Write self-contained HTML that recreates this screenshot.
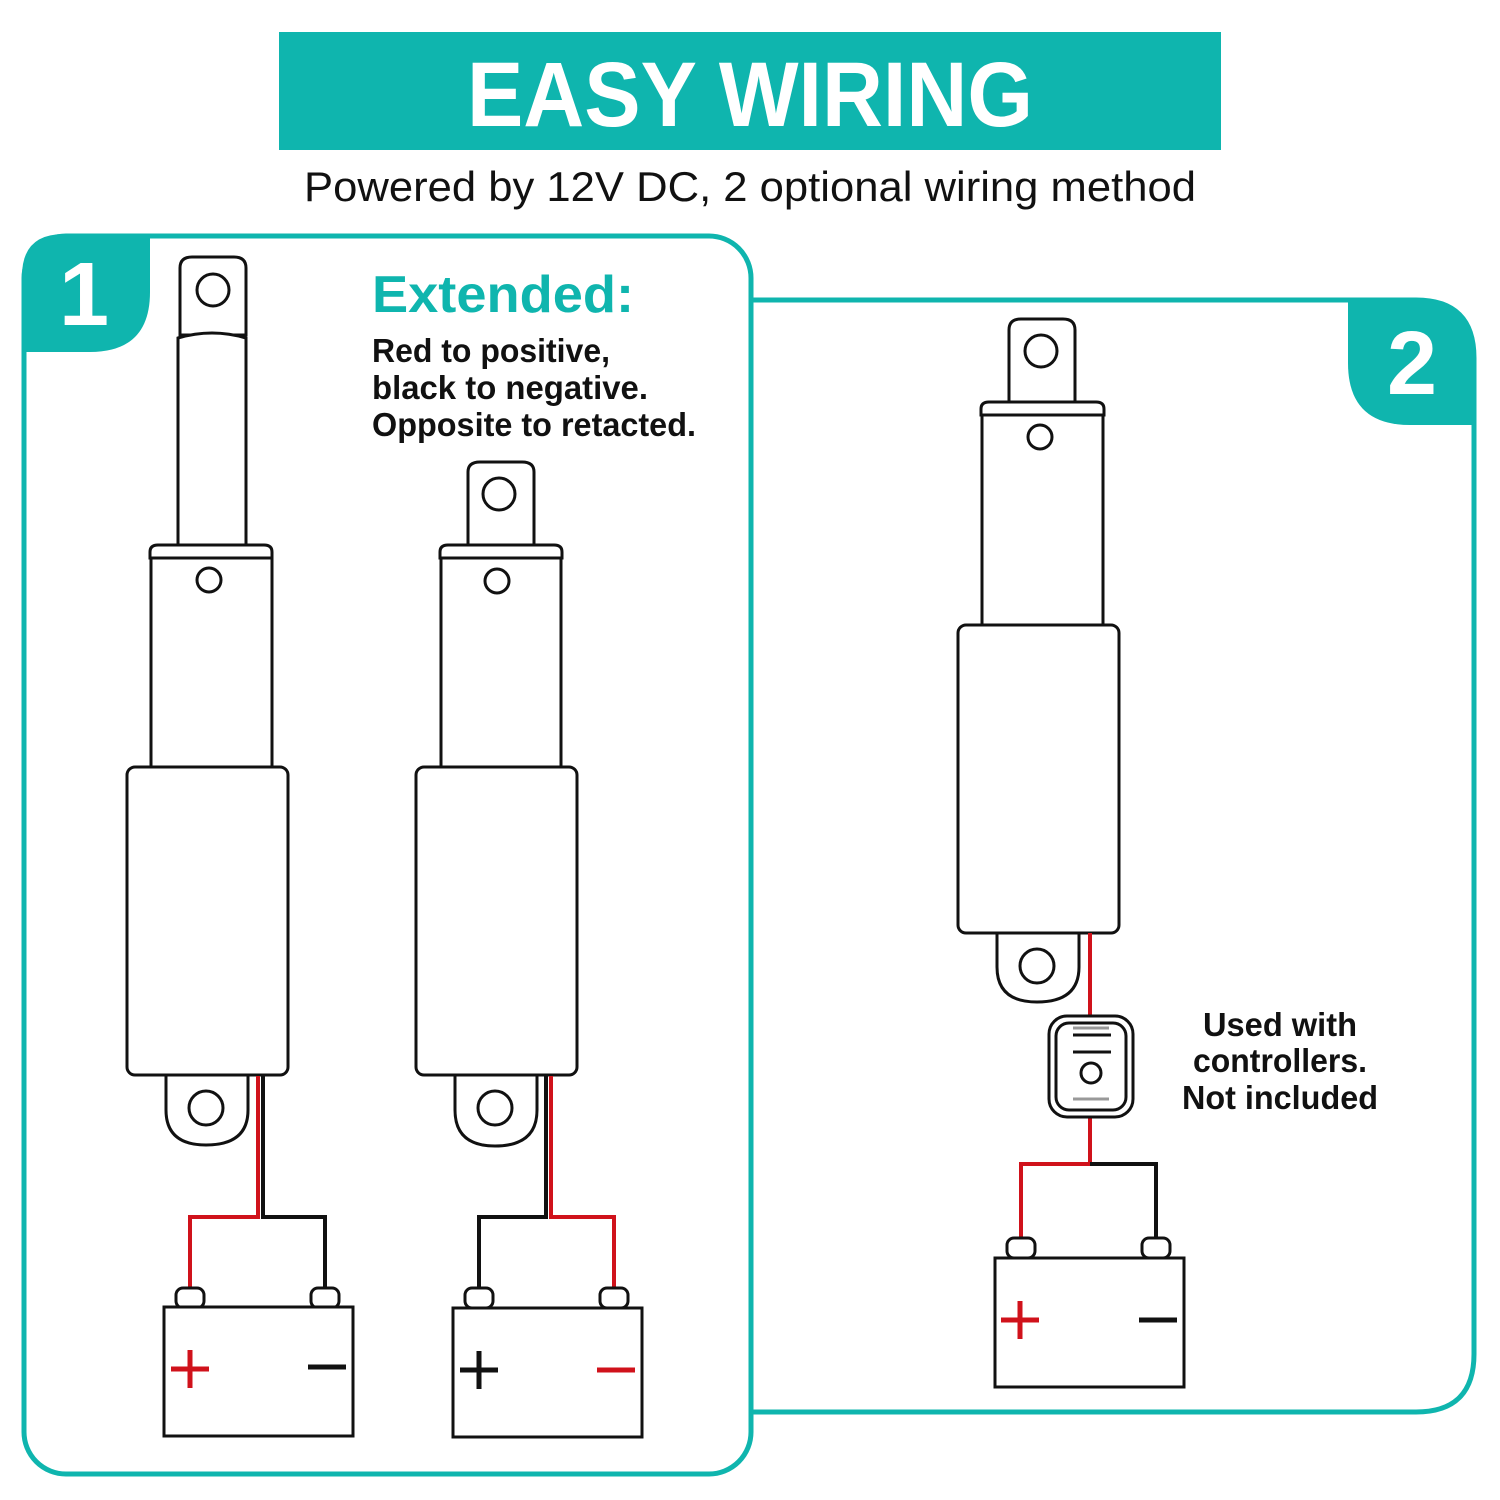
<!DOCTYPE html>
<html><head><style>html,body{margin:0;padding:0;background:#fff}svg{display:block}</style></head>
<body>
<svg width="1500" height="1500" viewBox="0 0 1500 1500" xmlns="http://www.w3.org/2000/svg" font-family="Liberation Sans, sans-serif">
<rect x="0" y="0" width="1500" height="1500" fill="#fff"/>
<!-- header -->
<rect x="279" y="32" width="942" height="118" fill="#0fb5ae"/>
<text x="750" y="126" text-anchor="middle" font-size="92" font-weight="bold" fill="#fff" textLength="566" lengthAdjust="spacingAndGlyphs">EASY WIRING</text>
<text x="750" y="201" text-anchor="middle" font-size="42" fill="#111" textLength="892" lengthAdjust="spacingAndGlyphs">Powered by 12V DC, 2 optional wiring method</text>

<!-- panel 2 -->
<path d="M752 300 H1416 Q1474 300 1474 358 V1354 Q1474 1412 1416 1412 H752" fill="none" stroke="#0fb5ae" stroke-width="5"/>
<path d="M1348 298 H1416 Q1476 298 1476 358 V425 H1410 Q1348 425 1348 363 Z" fill="#0fb5ae"/>
<text x="1412" y="394" text-anchor="middle" font-size="90" font-weight="bold" fill="#fff">2</text>
<!-- panel 1 -->
<rect x="24" y="236" width="727" height="1238" rx="42" fill="none" stroke="#0fb5ae" stroke-width="5"/>
<path d="M22 276 Q22 234 64 234 H150 V292 Q150 352 90 352 H22 Z" fill="#0fb5ae"/>
<text x="84" y="325" text-anchor="middle" font-size="90" font-weight="bold" fill="#fff">1</text>

<text x="372" y="312" font-size="52" font-weight="bold" fill="#0fb5ae" textLength="262" lengthAdjust="spacingAndGlyphs">Extended:</text>
<g font-size="33" font-weight="bold" fill="#111">
<text x="372" y="362" textLength="238" lengthAdjust="spacingAndGlyphs">Red to positive,</text>
<text x="372" y="399" textLength="276" lengthAdjust="spacingAndGlyphs">black to negative.</text>
<text x="372" y="436" textLength="324" lengthAdjust="spacingAndGlyphs">Opposite to retacted.</text>
<text x="1280" y="1036" text-anchor="middle" textLength="154" lengthAdjust="spacingAndGlyphs">Used with</text>
<text x="1280" y="1072" text-anchor="middle" textLength="174" lengthAdjust="spacingAndGlyphs">controllers.</text>
<text x="1280" y="1109" text-anchor="middle" textLength="196" lengthAdjust="spacingAndGlyphs">Not included</text>
</g>

<g fill="#fff" stroke="#111" stroke-width="3">
<!-- actuator 1 -->
<path d="M180 268 Q180 257 192 257 H234 Q246 257 246 268 V335 H180 Z"/>
<circle cx="213" cy="290" r="16"/>
<path d="M178 338 Q212 328 246 338 V545 H178 Z"/>
<path d="M150 552 Q150 545 158 545 H264 Q272 545 272 552 V558 H150 Z"/>
<rect x="151" y="558" width="121" height="209"/>
<circle cx="209" cy="580" r="12"/>
<path d="M166 1076 V1110 Q166 1145 206 1145 Q248 1145 248 1110 V1076"/>
<circle cx="206" cy="1108" r="17"/>
<rect x="127" y="767" width="161" height="308" rx="8"/>
<!-- actuator 2 -->
<path d="M468 472 Q468 462 480 462 H522 Q534 462 534 472 V545 H468 Z"/>
<circle cx="499" cy="494" r="16"/>
<path d="M440 552 Q440 545 448 545 H554 Q562 545 562 552 V558 H440 Z"/>
<rect x="441" y="558" width="120" height="209"/>
<circle cx="497" cy="581" r="12"/>
<path d="M455 1076 V1110 Q455 1146 495 1146 Q537 1146 537 1110 V1076"/>
<circle cx="495" cy="1108" r="17"/>
<rect x="416" y="767" width="161" height="308" rx="8"/>
<!-- actuator 3 -->
<path d="M1009 330 Q1009 319 1021 319 H1063 Q1075 319 1075 330 V402 H1009 Z"/>
<circle cx="1041" cy="351" r="16"/>
<path d="M981 409 Q981 402 989 402 H1096 Q1104 402 1104 409 V415 H981 Z"/>
<rect x="982" y="415" width="121" height="210"/>
<circle cx="1040" cy="437" r="12"/>
<path d="M997 933 V967 Q997 1002 1037 1002 Q1079 1002 1079 967 V933"/>
<circle cx="1037" cy="966" r="17"/>
<rect x="958" y="625" width="161" height="308" rx="8"/>
</g>

<!-- wires panel 1 -->
<g fill="none" stroke-width="4">
<path d="M258 1076 V1217 H190 V1290" stroke="#d0121b"/>
<path d="M263 1076 V1217 H325 V1290" stroke="#111"/>
<path d="M546 1076 V1217 H479 V1290" stroke="#111"/>
<path d="M551 1076 V1217 H614 V1290" stroke="#d0121b"/>
<path d="M1090 933 V1018" stroke="#d0121b"/>
<path d="M1090 1116 V1164 H1021 V1240" stroke="#d0121b"/>
<path d="M1090 1164 H1156 V1240" stroke="#111"/>
</g>

<!-- batteries -->
<g fill="#fff" stroke="#111" stroke-width="3">
<rect x="176" y="1288" width="28" height="20" rx="7"/>
<rect x="311" y="1288" width="28" height="20" rx="7"/>
<rect x="164" y="1307" width="189" height="129"/>
<rect x="465" y="1288" width="28" height="20" rx="7"/>
<rect x="600" y="1288" width="28" height="20" rx="7"/>
<rect x="453" y="1308" width="189" height="129"/>
<rect x="1007" y="1238" width="28" height="20" rx="7"/>
<rect x="1142" y="1238" width="28" height="20" rx="7"/>
<rect x="995" y="1258" width="189" height="129"/>
</g>
<g stroke-width="5">
<path d="M171 1369 H209 M190 1350 V1388" stroke="#d0121b"/>
<path d="M308 1367 H346" stroke="#111"/>
<path d="M460 1370 H498 M479 1351 V1389" stroke="#111"/>
<path d="M597 1370 H635" stroke="#d0121b"/>
<path d="M1001 1320 H1039 M1020 1301 V1339" stroke="#d0121b"/>
<path d="M1139 1320 H1177" stroke="#111"/>
</g>

<!-- switch -->
<g fill="#fff" stroke="#111" stroke-width="3">
<rect x="1049" y="1016" width="84" height="101" rx="18"/>
<rect x="1056" y="1023" width="70" height="87" rx="13"/>
<circle cx="1091" cy="1073" r="10"/>
</g>
<path d="M1073 1035 H1111 M1073 1052 H1111" stroke="#111" stroke-width="3"/>
<path d="M1073 1028 H1109 M1073 1099 H1109" stroke="#999" stroke-width="3"/>
</svg>
</body></html>
